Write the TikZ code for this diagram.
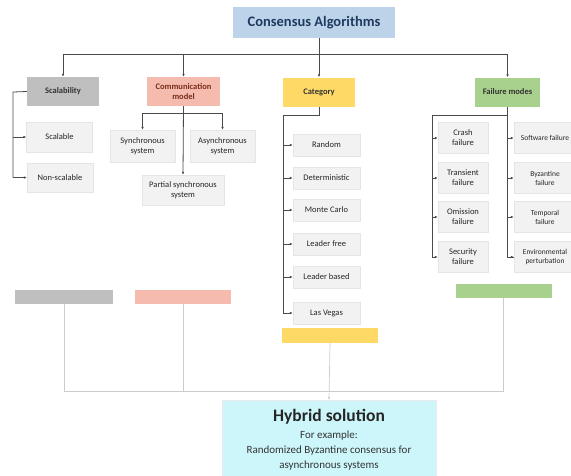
\documentclass[tikz,border=0pt]{standalone}
\usepackage{fontspec}
\setmainfont{Carlito}
\usetikzlibrary{arrows.meta}
\definecolor{titlebl}{HTML}{BDD3EA}
\definecolor{titletx}{HTML}{1F3A5F}
\definecolor{scalgray}{HTML}{BFBFBF}
\definecolor{commred}{HTML}{F5BBAE}
\definecolor{commtx}{HTML}{7A2E1A}
\definecolor{catyel}{HTML}{FFD966}
\definecolor{failgrn}{HTML}{A9D18E}
\definecolor{leafgray}{HTML}{F2F2F2}
\definecolor{hybcyan}{HTML}{CDF6FB}
\definecolor{linegray}{HTML}{4A4A4A}
\definecolor{palegray}{HTML}{CCCCCC}
\begin{document}
\begin{tikzpicture}[x=1pt,y=-1pt,
  base/.style={inner sep=1pt, align=center, text=black!80},
  cat1/.style={base, minimum height=29pt, font=\fontsize{8.5}{9.5}\selectfont\bfseries},
  leaf/.style={base, fill=leafgray, draw=black!10, text=black!85, font=\fontsize{8.5}{10}\selectfont},
  rleaf/.style={leaf, font=\fontsize{7.5}{9}\selectfont},
  bar/.style={minimum height=14pt, inner sep=0pt},
  ln/.style={draw=linegray, line width=0.8pt},
  arr/.style={ln, -{Latex[length=3pt,width=2.6pt]}},
  pale/.style={draw=palegray, line width=0.7pt},
  palearr/.style={pale, -{Latex[length=3pt,width=2.6pt]}}
]
\useasboundingbox (0,0) rectangle (571,475);
\clip (0,0) rectangle (571,475);

% title
\node[base, fill=titlebl, minimum width=162pt, minimum height=31pt, text=titletx,
  font=\fontsize{14.5}{16}\selectfont\bfseries] (title) at (314,22.5) {Consensus Algorithms};

% first level
\node[cat1, fill=scalgray, minimum width=72pt] (scal) at (63,91.5) {Scalability};
\node[cat1, fill=commred, minimum width=73pt, text=commtx] (comm) at (183.5,91.5) {Communication\\model};
\node[cat1, fill=catyel, minimum width=72pt] (cat) at (319,92) {Category};
\node[cat1, fill=failgrn, minimum width=65pt] (fail) at (507.5,92) {Failure modes};

% scalability leaves
\node[leaf, minimum width=66pt, minimum height=30pt] (scalable) at (59.5,137) {Scalable};
\node[leaf, minimum width=66pt, minimum height=29pt] (nonscal) at (60,177.5) {Non-scalable};

% communication leaves
\node[leaf, minimum width=65pt, minimum height=32pt] (sync) at (142.5,146) {Synchronous\\system};
\node[leaf, minimum width=65pt, minimum height=32pt] (async) at (222.5,146) {Asynchronous\\system};
\node[leaf, minimum width=82pt, minimum height=30pt] (partial) at (183,190) {Partial synchronous\\system};

% category leaves
\foreach \n/\t/\y in {random/Random/145, determ/Deterministic/178, monte/Monte Carlo/210,
  lfree/Leader free/244, lbased/Leader based/277, lasv/Las Vegas/313}
  \node[leaf, minimum width=67pt, minimum height=22pt] (\n) at (326.5,\y) {\t};

% failure leaves, left column
\foreach \n/\t/\y in {crash/Crash\\failure/138, trans/Transient\\failure/178,
  omis/Omission\\failure/217, secu/Security\\failure/257}
  \node[leaf, minimum width=50pt, minimum height=31pt] (\n) at (463,\y) {\t};

% failure leaves, right column
\foreach \n/\t/\y in {soft/Software failure/138, byz/Byzantine\\failure/178,
  temp/Temporal\\failure/217, envi/Environmental\\perturbation/257}
  \node[rleaf, minimum width=62pt, minimum height=31pt] (\n) at (545,\y) {\t};

% coloured bars
\node[bar, fill=scalgray, minimum width=98pt] (bgray) at (64,297) {};
\node[bar, fill=commred, minimum width=96pt] (bred) at (183,297) {};
\node[bar, fill=catyel, minimum width=96pt, minimum height=15pt] (byel) at (330,335) {};
\node[bar, fill=failgrn, minimum width=96pt] (bgrn) at (503.5,291) {};

% hybrid
\node[base, fill=hybcyan, draw=black!8, minimum width=214pt, minimum height=80pt,
  anchor=north] (hyb) at (329,400) {};
\node[font=\fontsize{17.5}{19}\selectfont\bfseries, text=black!85, inner sep=0pt] (hybt) at (329,417) {Hybrid solution};
\node[font=\fontsize{11}{15}\selectfont, text=black!80, align=center, inner sep=0pt, anchor=north] (hybx) at (329,431)
  {For example:\\Randomized Byzantine consensus for\\asynchronous systems};

% top connectors
\coordinate (hub) at (319,54);
\coordinate (tstem) at (319,38);
\draw[ln] (tstem) -- (hub);
\draw[ln] (scal.north |- hub) -- (fail.north |- hub);
\draw[arr] (scal.north |- hub) -- (scal.north);
\draw[arr] (comm.north |- hub) -- (comm.north);
\draw[arr] (cat.north |- hub) -- (cat.north);
\draw[arr] (fail.north |- hub) -- (fail.north);

% scalability branch
\coordinate (sv) at (13,92);
\draw[ln] (scal.west) -- (sv) -- (sv |- nonscal.west);
\draw[arr] (sv |- scalable.west) -- (scalable.west);
\draw[arr] (sv |- nonscal.west) -- (nonscal.west);

% communication branch
\coordinate (cj) at (183,113);
\draw[ln] (sync.north |- cj) -- (async.north |- cj);
\draw[arr] (sync.north |- cj) -- (sync.north);
\draw[arr] (async.north |- cj) -- (async.north);
\draw[arr] (comm.south) -- (partial.north);

% category branch
\coordinate (cv) at (283,115);
\draw[ln] (cat.south) -- (cat.south |- cv) -- (cv) -- (cv |- lasv.west);
\foreach \n in {random, determ, monte, lfree, lbased, lasv}
  \draw[arr] (cv |- \n.west) -- (\n.west);

% failure branch
\coordinate (fj) at (507.5,115);
\coordinate (fl) at (432,115);
\draw[ln] (fail.south) -- (fj |- envi.west) -- (envi.west);
\draw[ln] (fj) -- (fl) -- (fl |- secu.west);
\foreach \n in {crash, trans, omis, secu}
  \draw[arr] (fl |- \n.west) -- (\n.west);
\foreach \n in {soft, byz, temp, envi}
  \draw[arr] (fj |- \n.west) -- (\n.west);

% bottom pale connectors
\coordinate (bj) at (329,391);
\draw[pale] (bgray.south) -- (bgray.south |- bj) -- (bgrn.south |- bj) -- (bgrn.south);
\draw[pale] (bred.south) -- (bred.south |- bj);
\draw[palearr] (byel.south) -- (hyb.north);
\end{tikzpicture}
\end{document}
